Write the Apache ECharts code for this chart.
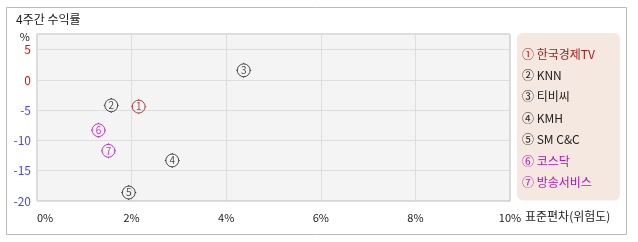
<!DOCTYPE html>
<html><head><meta charset="utf-8">
<script src="https://cdn.jsdelivr.net/npm/echarts@6/dist/echarts.min.js"></script>
<style>html,body{margin:0;padding:0;background:#fff}#c{width:638px;height:242px}</style>
</head><body><div id="c"></div>
<script>
const titleText = '4주간 수익률';
const names = ['한국경제TV','KNN','티비씨','KMH','SM C&C','코스닥','방송서비스'];
const marks = ['①','②','③','④','⑤','⑥','⑦'];
const digits = ['1','2','3','4','5','6','7'];
const stdev = [2.15, 1.57, 4.37, 2.86, 1.94, 1.30, 1.51];
const returns = [-4.4, -4.2, 1.6, -13.3, -18.6, -8.3, -11.7];
const colors = ['#a81c1c','#222222','#222222','#222222','#222222','#b010c0','#b010c0'];
const xAxisName = '표준편차(위험도)';

const FONT = '"Noto Sans CJK KR", "DejaVu Sans", sans-serif';
const markerPath = 'path://M7,1 A6,6 0 1,1 6.99,1 Z M7,0 L7,1.2 M7,12.8 L7,14 M0,7 L1.2,7 M12.8,7 L14,7';

const series = names.map((n, i) => ({
  type: 'scatter',
  name: marks[i] + ' ' + n,
  data: [[stdev[i], returns[i]]],
  symbol: markerPath,
  symbolSize: 15,
  itemStyle: { color: 'rgba(0,0,0,0)', borderColor: colors[i], borderWidth: 1 },
  label: { show: true, position: 'inside', formatter: digits[i], color: colors[i], fontSize: 10, fontFamily: FONT },
  emphasis: { disabled: true }
}));

const chart = echarts.init(document.getElementById('c'), null, { renderer: 'canvas' });
chart.setOption({
  animation: false,
  textStyle: { fontFamily: FONT },
  graphic: [
    { type: 'rect', z: -10, shape: { x: 6.5, y: 7.5, width: 620, height: 227 }, style: { fill: '#fff', stroke: '#bbbbbb', lineWidth: 1 } },
    { type: 'text', left: 16, top: 13, style: { text: titleText, fill: '#222', font: '12px ' + FONT } },
    { type: 'text', left: 525, top: 210, style: { text: xAxisName, fill: '#222', font: '12px ' + FONT } }
  ],
  grid: { left: 37, top: 34, width: 473, height: 167, show: true, backgroundColor: '#f4f4f4', borderColor: '#bbbbbb', borderWidth: 1 },
  legend: {
    orient: 'vertical', left: 517, top: 33, selectedMode: false,
    backgroundColor: '#f5e8e0', borderRadius: 6,
    padding: [14, 25, 12, 5], itemGap: 8.4, itemWidth: 0, itemHeight: 14, icon: 'none',
    data: names.map((n, i) => ({ name: marks[i] + ' ' + n, textStyle: { color: colors[i], fontSize: 12, fontFamily: FONT, padding: [0,0,0,-5] } }))
  },
  xAxis: {
    type: 'value', min: 0, max: 10, interval: 2,
    axisLine: { show: false }, axisTick: { show: false },
    axisLabel: { color: '#222', fontSize: 11, margin: 11, alignMinLabel: 'left', formatter: v => v + '%' },
    splitLine: { lineStyle: { color: '#dddddd' } }
  },
  yAxis: {
    type: 'value', min: -20, max: 7.6, interval: 5,
    name: '%', nameLocation: 'end', nameGap: -8,
    nameTextStyle: { color: '#222', fontSize: 11, align: 'right', padding: [0, 7, 0, 0] },
    axisLine: { show: false }, axisTick: { show: false },
    axisLabel: { fontSize: 12, margin: 6, showMaxLabel: false,
      color: v => (Number(v) >= 0 ? '#ff0000' : '#4646ff'),
      formatter: v => (v > 7 ? '' : String(v)) },
    splitLine: { lineStyle: { color: '#dddddd' } }
  },
  series
});
</script></body></html>
